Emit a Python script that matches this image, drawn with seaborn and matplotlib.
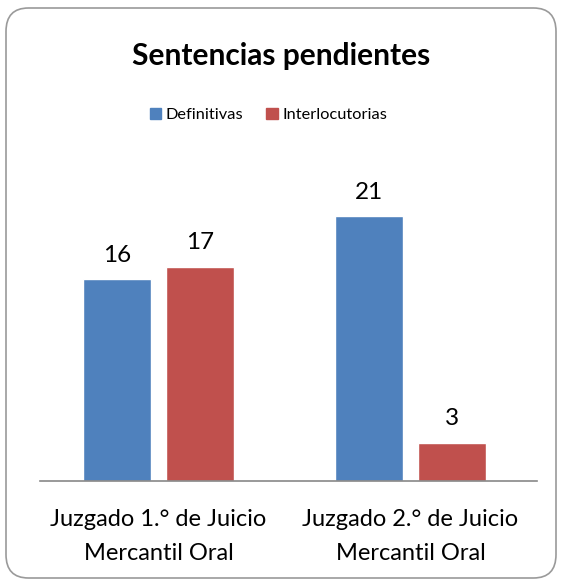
import pandas as pd
import seaborn as sns
import matplotlib.pyplot as plt
from matplotlib.patches import FancyBboxPatch

sns.set_style("white")
plt.rcParams['font.family'] = ['Lato', 'DejaVu Sans']
plt.rcParams['text.color'] = 'black'
plt.rcParams['xtick.color'] = 'black'

# data
juzgados = ["Juzgado 1.° de Juicio\nMercantil Oral", "Juzgado 2.° de Juicio\nMercantil Oral"]
definitivas = [16, 21]
interlocutorias = [17, 3]
series = ["Definitivas", "Interlocutorias"]
colores = ["#4F81BD", "#C0504D"]

df = pd.DataFrame({
    "juzgado": juzgados * 2,
    "tipo": [series[0]] * 2 + [series[1]] * 2,
    "valor": definitivas + interlocutorias,
})

W, H = 562, 586
fig = plt.figure(figsize=(W / 100, H / 100), dpi=100)
ax = fig.add_axes([40 / W, (H - 481) / H, (537 - 40) / W, (481 - 166) / H])

sns.barplot(data=df, x="juzgado", y="valor", hue="tipo", palette=colores,
            width=0.66, gap=0.18, ax=ax, legend=False, saturation=1)

for c in ax.containers:
    ax.bar_label(c, padding=10, fontsize=17.5, color="black")

ax.set_ylim(0, 25)
ax.set_xlim(-0.47, 1.502)
ax.set_xlabel("")
ax.set_ylabel("")
ax.set_yticks([])
ax.tick_params(axis="x", length=0, labelsize=17, pad=20, labelcolor="black")
for lab in ax.get_xticklabels():
    lab.set_linespacing(1.75)
for s in ["top", "right", "left"]:
    ax.spines[s].set_visible(False)
ax.spines["bottom"].set_color("#888888")
ax.spines["bottom"].set_linewidth(1.2)

fig.text(0.5, (H - 56) / H, "Sentencias pendientes", ha="center", va="center",
         fontsize=21.5, fontweight="bold", color="black")

handles = [plt.Rectangle((0, 0), 1, 1, color=col) for col in colores]
fig.legend(handles, series, loc="center", bbox_to_anchor=(0.478, (H - 115) / H),
           ncol=2, frameon=False, fontsize=11.8, handlelength=0.7, handleheight=0.7,
           handletextpad=0.3, columnspacing=1.4, labelcolor="black")

border = FancyBboxPatch((6 / W, 8 / H), (550 / W), (570 / H),
                        boxstyle="round,pad=0,rounding_size=0.04",
                        transform=fig.transFigure, fill=False,
                        edgecolor="#9a9a9a", linewidth=1.2)
fig.patches.append(border)

fig.savefig("out.png", dpi=100)
plt.close()
